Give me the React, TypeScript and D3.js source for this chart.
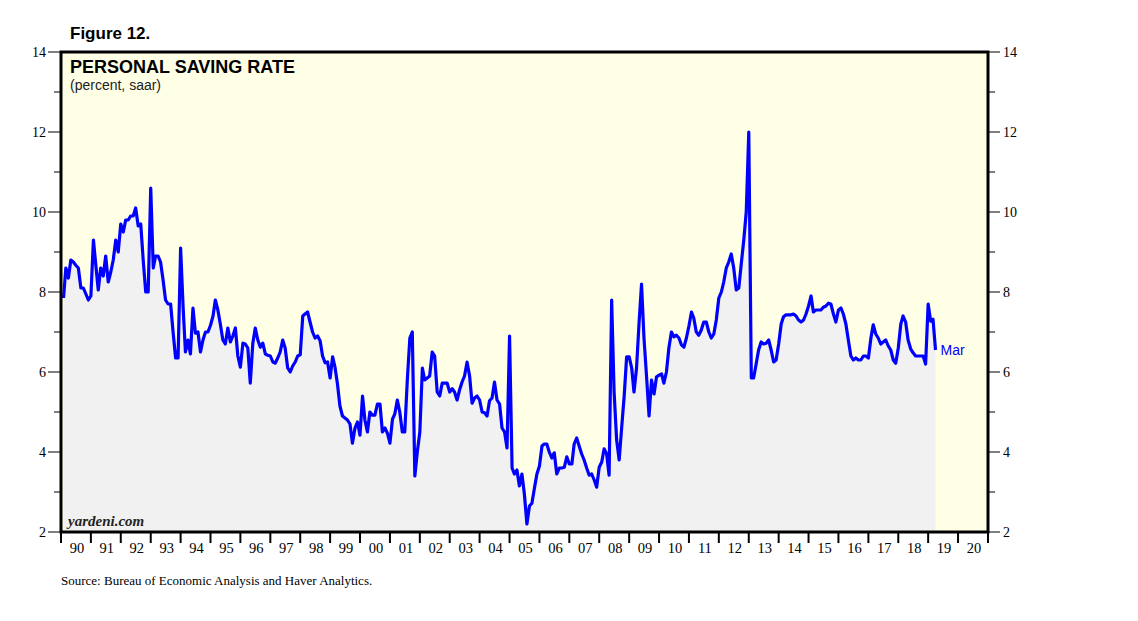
import React from 'react'
import * as d3 from 'd3'

// monthly personal saving rate, percent saar, Jan 1990 .. Mar 2019
const startYear = 1990
const savingRate: number[] = [
  7.85, 8.6, 8.35, 8.8, 8.75, 8.67, 8.6, 8.1, 8.1, 7.95, 7.8, 7.9, // 90
  9.3, 8.7, 8.05, 8.6, 8.4, 8.9, 8.25, 8.5, 8.8, 9.3, 9.0, 9.7, // 91
  9.5, 9.8, 9.8, 9.9, 9.9, 10.1, 9.65, 9.7, 8.8, 8.0, 8.0, 10.6, // 92
  8.6, 8.9, 8.9, 8.75, 8.3, 7.8, 7.7, 7.7, 7.0, 6.35, 6.35, 9.1, // 93
  7.6, 6.5, 6.8, 6.45, 7.6, 6.97, 7.0, 6.5, 6.8, 7.0, 7.0, 7.17, // 94
  7.4, 7.8, 7.55, 7.2, 6.8, 6.7, 7.1, 6.75, 6.9, 7.1, 6.4, 6.12, // 95
  6.72, 6.7, 6.6, 5.72, 6.72, 7.1, 6.8, 6.62, 6.72, 6.45, 6.42, 6.4, // 96
  6.25, 6.22, 6.35, 6.5, 6.8, 6.6, 6.1, 6.0, 6.15, 6.25, 6.4, 6.43, // 97
  7.4, 7.45, 7.5, 7.25, 7.0, 6.85, 6.9, 6.78, 6.4, 6.23, 6.25, 5.85, // 98
  6.38, 6.13, 5.7, 5.15, 4.9, 4.85, 4.8, 4.7, 4.22, 4.6, 4.75, 4.42, // 99
  5.4, 4.8, 4.5, 5.0, 4.92, 4.92, 5.2, 5.2, 4.5, 4.6, 4.47, 4.22, // 00
  4.82, 4.95, 5.3, 5.0, 4.5, 4.5, 5.8, 6.85, 7.0, 3.4, 4.0, 4.5, // 01
  6.1, 5.8, 5.85, 5.9, 6.5, 6.4, 5.5, 5.4, 5.72, 5.72, 5.72, 5.5, // 02
  5.58, 5.5, 5.3, 5.55, 5.75, 5.9, 6.25, 5.9, 5.22, 5.35, 5.4, 5.3, // 03
  5.0, 4.98, 4.9, 5.28, 5.35, 5.75, 5.3, 5.2, 4.6, 4.5, 4.1, 6.9, // 04
  3.6, 3.45, 3.55, 3.15, 3.45, 2.95, 2.2, 2.65, 2.72, 3.1, 3.45, 3.65, // 05
  4.15, 4.2, 4.2, 4.0, 3.85, 3.98, 3.45, 3.6, 3.6, 3.62, 3.88, 3.7, // 06
  3.7, 4.2, 4.35, 4.15, 3.95, 3.8, 3.6, 3.42, 3.45, 3.3, 3.12, 3.62, // 07
  3.75, 4.08, 3.95, 3.42, 7.8, 5.5, 4.3, 3.8, 4.6, 5.4, 6.38, 6.38, // 08
  6.1, 5.5, 6.1, 7.2, 8.2, 6.85, 5.9, 4.9, 5.8, 5.45, 5.88, 5.92, // 09
  5.95, 5.72, 6.0, 6.6, 7.0, 6.88, 6.92, 6.85, 6.68, 6.62, 6.85, 7.15, // 10
  7.5, 7.35, 7.0, 6.92, 7.05, 7.25, 7.25, 7.0, 6.85, 6.95, 7.3, 7.85, // 11
  8.0, 8.25, 8.6, 8.75, 8.95, 8.6, 8.05, 8.1, 8.7, 9.3, 10.0, 12.0, // 12
  5.85, 5.85, 6.2, 6.55, 6.75, 6.7, 6.72, 6.8, 6.55, 6.25, 6.3, 6.7, // 13
  7.2, 7.38, 7.43, 7.43, 7.43, 7.45, 7.4, 7.3, 7.25, 7.3, 7.45, 7.65, // 14
  7.9, 7.5, 7.55, 7.55, 7.55, 7.62, 7.65, 7.72, 7.7, 7.45, 7.25, 7.55, // 15
  7.6, 7.45, 7.2, 6.8, 6.4, 6.3, 6.35, 6.3, 6.3, 6.4, 6.4, 6.35, // 16
  6.85, 7.18, 6.95, 6.85, 6.7, 6.75, 6.8, 6.65, 6.55, 6.3, 6.22, 6.6, // 17
  7.2, 7.4, 7.25, 6.8, 6.58, 6.48, 6.4, 6.4, 6.4, 6.4, 6.2, 7.7, // 18
  7.27, 7.32, 6.55 // 19
]

const yTicks = [2, 4, 6, 8, 10, 12, 14]
const yMinorTicks = [3, 5, 7, 9, 11, 13]
const yearLabels = d3.range(1990, 2021).map(y => String(y % 100).padStart(2, '0'))

const W = 1138
const H = 621
const left = 61
const right = 988
const top = 52
const bottom = 532

const sans = 'Arial, "Liberation Sans", sans-serif'
const serif = '"Times New Roman", "Liberation Serif", serif'

export default function App() {
  const x = d3.scaleTime()
    .domain([new Date(1990, 0, 1), new Date(2021, 0, 1)])
    .range([left, right])
  const y = d3.scaleLinear().domain([2, 14]).range([bottom, top])

  // each monthly value is plotted at the end of its month
  const points = savingRate.map((v, i) => ({
    date: new Date(startYear + Math.floor(i / 12), (i % 12) + 1, 1),
    value: v
  }))

  const line = d3.line<{ date: Date; value: number }>()
    .x(d => x(d.date))
    .y(d => y(d.value))
  const area = d3.area<{ date: Date; value: number }>()
    .x(d => x(d.date))
    .y0(bottom)
    .y1(d => y(d.value))

  const yearTicks = d3.range(1990, 2022).map(yr => new Date(yr, 0, 1))
  const last = points[points.length - 1]

  return (
    <svg width={W} height={H} style={{ position: 'absolute', left: 0, top: 0, background: '#fff' }}>
      <defs>
        <clipPath id="plot-clip">
          <rect x={left} y={top} width={right - left} height={bottom - top} />
        </clipPath>
      </defs>

      <text x={70} y={39} fontFamily={sans} fontWeight="bold" fontSize={17}>Figure 12.</text>

      {/* plot background */}
      <rect x={left} y={top} width={right - left} height={bottom - top} fill="#ffffe6" />
      <g clipPath="url(#plot-clip)">
        <path d={area(points) ?? ''} fill="#f1f1f1" />
        <path d={line(points) ?? ''} fill="none" stroke="#0000ff" strokeWidth={3.2} strokeLinejoin="round" />
      </g>
      <text x={x(last.date) + 5} y={y(last.value) + 5} fontFamily={sans} fontSize={14} fill="#0000ff">Mar</text>

      <text x={70} y={73} fontFamily={sans} fontWeight="bold" fontSize={18}>PERSONAL SAVING RATE</text>
      <text x={70} y={90} fontFamily={sans} fontSize={14} fill="#222">(percent, saar)</text>
      <text x={68} y={526} fontFamily={serif} fontStyle="italic" fontWeight="bold" fontSize={15} fill="#222">yardeni.com</text>

      {/* frame */}
      <rect x={left} y={top} width={right - left} height={bottom - top} fill="none" stroke="#000" strokeWidth={3} />

      {/* y axes */}
      {yTicks.map(t => (
        <g key={'yt' + t}>
          <line x1={left - 13} x2={left} y1={y(t)} y2={y(t)} stroke="#000" strokeWidth={1} />
          <line x1={right} x2={right + 12} y1={y(t)} y2={y(t)} stroke="#000" strokeWidth={1} />
          <text x={left - 15} y={y(t) + 5} textAnchor="end" fontFamily={serif} fontSize={14}>{t}</text>
          <text x={right + 15} y={y(t) + 5} fontFamily={serif} fontSize={14}>{t}</text>
        </g>
      ))}
      {yMinorTicks.map(t => (
        <g key={'ym' + t}>
          <line x1={left - 7} x2={left} y1={y(t)} y2={y(t)} stroke="#000" strokeWidth={1} />
          <line x1={right} x2={right + 7} y1={y(t)} y2={y(t)} stroke="#000" strokeWidth={1} />
        </g>
      ))}

      {/* x axis */}
      {yearTicks.map((d, i) => (
        <line key={'xt' + i} x1={x(d)} x2={x(d)} y1={bottom} y2={bottom + 11} stroke="#000" strokeWidth={2} />
      ))}
      {yearLabels.map((lab, i) => {
        const cx = (x(yearTicks[i]) + x(yearTicks[i + 1])) / 2 + 1
        return (
          <text key={'xl' + i} x={cx} y={553} textAnchor="middle" fontFamily={serif} fontSize={14.5}>{lab}</text>
        )
      })}

      <text x={61} y={585} fontFamily={serif} fontSize={13}>Source: Bureau of Economic Analysis and Haver Analytics.</text>
    </svg>
  )
}
